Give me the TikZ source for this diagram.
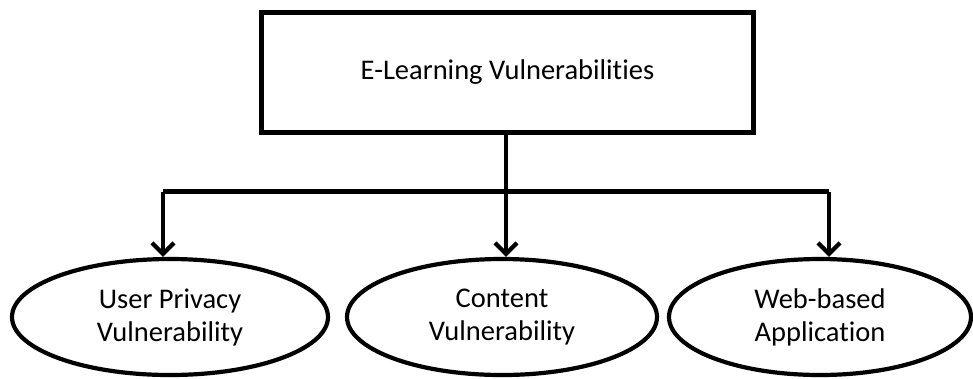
\documentclass[tikz,border=0pt]{standalone}
\usepackage{fontspec}
\setmainfont{Carlito}[Ligatures=NoCommon]
\usetikzlibrary{arrows.meta,shapes.geometric}
\begin{document}
\begin{tikzpicture}[x=1pt,y=-1pt,
  thick line/.style={line width=4.2pt},
  titlebox/.style={draw,thick line,rectangle,minimum width=492pt,minimum height=120pt,inner sep=0pt,font=\fontsize{28.5}{33}\selectfont},
  leaf/.style={draw,thick line,ellipse,inner sep=0pt,align=center,font=\fontsize{28.5}{33}\selectfont},
  link/.style={thick line,-{Straight Barb[length=11pt,width=22pt,line width=4.2pt]}}]
\useasboundingbox (0,0) rectangle (973,378);
\node[titlebox] (top) at (507.5,72.5) {E-Learning Vulnerabilities};
\node[leaf,minimum width=316pt,minimum height=116pt] (privacy) at (170,317) {User Privacy\\Vulnerability};
\node[leaf,minimum width=310pt,minimum height=116pt] (content) at (502,317) {Content\\Vulnerability};
\node[leaf,minimum width=302pt,minimum height=116pt] (web) at (820,317) {Web-based\\Application};
\coordinate (split) at (506,191.5);
\coordinate (leftend) at (163,191.5);
\coordinate (rightend) at (829,191.5);
\draw[thick line] (top.south -| split) -- (split);
\draw[thick line] (leftend) -- (rightend);
\draw[link] (leftend) -- (leftend |- privacy.north);
\draw[link] (split) -- (split |- content.north);
\draw[link] (rightend) -- (rightend |- web.north);
\end{tikzpicture}
\end{document}
